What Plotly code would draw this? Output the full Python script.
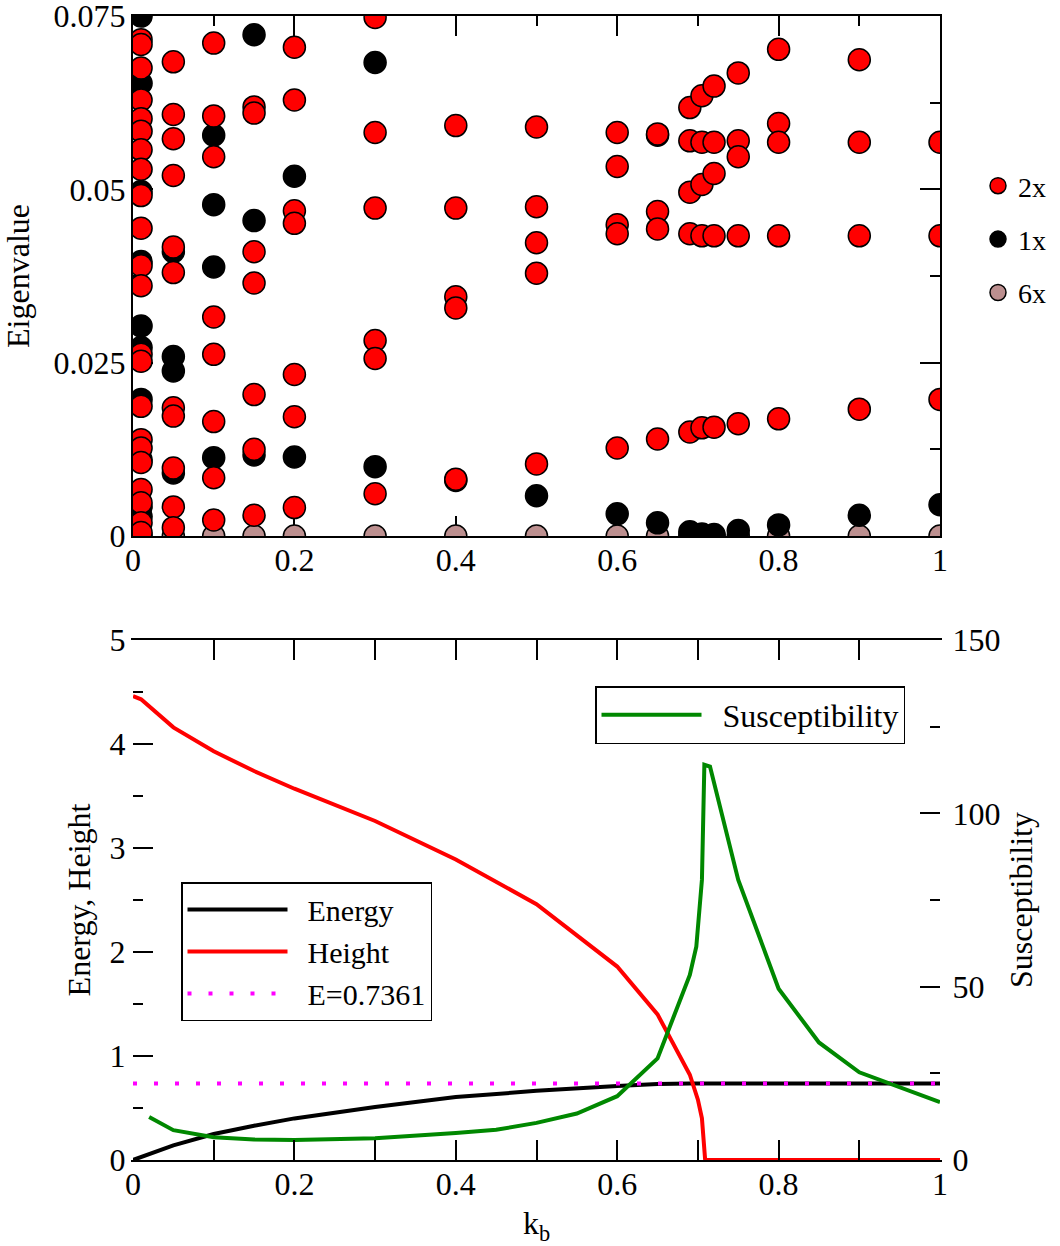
import plotly.graph_objects as go

# ---------------- data: top panel (eigenvalue spectrum) ----------------
k_cols = [0.01, 0.05, 0.1, 0.15, 0.2, 0.3, 0.4, 0.5, 0.6, 0.65,
          0.69, 0.705, 0.72, 0.75, 0.8, 0.9, 1.0]

ev_2x = [
    [0.0716, 0.0709, 0.0675, 0.0629, 0.0602, 0.0584, 0.0557, 0.0529, 0.0491,
     0.0444, 0.0390, 0.0361, 0.0262, 0.0252, 0.0187, 0.0139, 0.0127, 0.0106,
     0.0067, 0.0048, 0.0019, 0.0005],
    [0.0684, 0.0608, 0.0573, 0.0520, 0.0417, 0.0380, 0.0185, 0.0173, 0.0098,
     0.0042, 0.0012],
    [0.0711, 0.0606, 0.0547, 0.0316, 0.0262, 0.0165, 0.0084, 0.0023],
    [0.0619, 0.0610, 0.0410, 0.0365, 0.0204, 0.0125, 0.0030],
    [0.0705, 0.0629, 0.0469, 0.0451, 0.0233, 0.0172, 0.0041],
    [0.0748, 0.0582, 0.0473, 0.0282, 0.0256, 0.0061],
    [0.0592, 0.0473, 0.0345, 0.0329, 0.0082],
    [0.0590, 0.0475, 0.0423, 0.0379, 0.0104],
    [0.0582, 0.0533, 0.0449, 0.0436, 0.0127],
    [0.0580, 0.0468, 0.0443, 0.0140],
    [0.0618, 0.0570, 0.0496, 0.0436, 0.0150],
    [0.0635, 0.0568, 0.0507, 0.0433, 0.0156],
    [0.0649, 0.0568, 0.0523, 0.0433, 0.0157],
    [0.0668, 0.0570, 0.0547, 0.0433, 0.0162],
    [0.0702, 0.0595, 0.0568, 0.0433, 0.0169],
    [0.0687, 0.0568, 0.0433, 0.0183],
    [0.0568, 0.0433, 0.0197],
]

ev_1x = [
    [0.0750, 0.0653, 0.0497, 0.0396, 0.0303, 0.0272, 0.0197, 0.0110, 0.0042, 0.0028],
    [0.0410, 0.0259, 0.0238, 0.0091],
    [0.0578, 0.0478, 0.0388, 0.0113],
    [0.0723, 0.0455, 0.0117],
    [0.0519, 0.0114],
    [0.0683, 0.0100],
    [0.0080],
    [0.0058],
    [0.0032],
    [0.0578, 0.0019],
    [0.0006],
    [0.0003],
    [0.0002],
    [0.0008],
    [0.0016],
    [0.0030],
    [0.0045],
]

ev_6x = [[0.0], [0.0], [0.0], [0.0], [0.0], [0.0], [0.0], [0.0], [0.0],
         [0.0], [0.0], [0.0], [0.0], [0.0], [0.0], [0.0], [0.0]]

eig_ticks = [0, 0.025, 0.05, 0.075]
eig_ticktext = ["0", "0.025", "0.05", "0.075"]

# ---------------- data: bottom panel ----------------
k_energy = [0, 0.05, 0.1, 0.15, 0.2, 0.3, 0.4, 0.5, 0.6, 0.65, 0.69, 0.7,
            0.705, 0.71, 0.75, 0.8, 0.9, 1.0]
energy = [0.0, 0.14, 0.25, 0.33, 0.40, 0.51, 0.605, 0.665, 0.712, 0.731,
          0.7355, 0.736, 0.7361, 0.7361, 0.7361, 0.7361, 0.7361, 0.7361]

k_height = [0, 0.01, 0.05, 0.1, 0.15, 0.2, 0.3, 0.4, 0.5, 0.6, 0.65, 0.69,
            0.70, 0.705, 0.709, 0.75, 0.8, 0.9, 1.0]
height = [4.46, 4.43, 4.16, 3.93, 3.74, 3.57, 3.26, 2.89, 2.46, 1.86, 1.40,
          0.82, 0.58, 0.40, 0.0, 0.0, 0.0, 0.0, 0.0]

k_ref = [0, 1]
e_ref = [0.7361, 0.7361]

k_sus = [0.02, 0.05, 0.1, 0.15, 0.2, 0.3, 0.4, 0.45, 0.5, 0.55, 0.6, 0.65,
         0.69, 0.698, 0.705, 0.708, 0.715, 0.75, 0.8, 0.85, 0.9, 1.0]
sus = [12.4, 8.6, 6.55, 5.9, 5.75, 6.3, 7.8, 8.7, 10.7, 13.4, 18.4, 29.3,
       53.4, 61.5, 80.8, 114.0, 113.5, 80.8, 49.4, 33.9, 25.3, 16.7]


def flatten(cols, groups):
    xs, ys = [], []
    for k, vals in zip(cols, groups):
        for v in vals:
            xs.append(k)
            ys.append(v)
    return xs, ys


FONT = "Liberation Serif"
W, H = 1060, 1246
GAP = "\u00a0\u00a0"  # small gap between legend sample and label


def px(x):
    return x / W


def py(y):
    return (H - y) / H


fig = go.Figure()

# top panel markers (legend order 2x, 1x, 6x; draw order 6x, 1x, 2x)
for name, groups, color, z, grp in [
    ("2x", ev_2x, "#ff0000", 3, "g1"),
    ("1x", ev_1x, "#000000", 2, "g2"),
    ("6x", ev_6x, "#bc8f8f", 1, "g3"),
]:
    xs, ys = flatten(k_cols, groups)
    fig.add_trace(go.Scatter(
        x=xs, y=ys, mode="markers", name=name, xaxis="x", yaxis="y",
        marker=dict(size=22, color=color, line=dict(color="black", width=1.5)),
        cliponaxis=False, zorder=z, legend="legend", legendgroup=grp,
    ))

# bottom panel lines
fig.add_trace(go.Scatter(x=k_energy, y=energy, mode="lines", name=GAP + "Energy",
                         xaxis="x2", yaxis="y2", line=dict(color="black", width=4),
                         legend="legend2", cliponaxis=False))
fig.add_trace(go.Scatter(x=k_height, y=height, mode="lines", name=GAP + "Height",
                         xaxis="x2", yaxis="y2", line=dict(color="#ff0000", width=4),
                         legend="legend2", cliponaxis=False))
fig.add_trace(go.Scatter(x=k_ref, y=e_ref, mode="lines", name=GAP + "E=0.7361",
                         xaxis="x2", yaxis="y2",
                         line=dict(color="#ff00ff", width=4, dash="4px,17px"),
                         legend="legend2", cliponaxis=False))
fig.add_trace(go.Scatter(x=k_sus, y=sus, mode="lines", name=GAP + "Susceptibility",
                         xaxis="x2", yaxis="y3", line=dict(color="#008800", width=4),
                         legend="legend3", cliponaxis=False))

xdom = [px(133), px(940)]
ydom_top = [py(536), py(16)]
ydom_bot = [py(1160), py(640)]

tickfont = dict(family=FONT, size=32, color="black")
common = dict(showline=True, linecolor="black", linewidth=2, ticks="inside",
              tickwidth=2, ticklen=20, tickcolor="black", showgrid=False,
              zeroline=False, tickfont=tickfont, automargin=False,
              ticklabeloverflow="allow")


def minor(d):
    return dict(dtick=d, ticklen=10, tickwidth=2, ticks="inside", tickcolor="black")


fig.update_layout(
    width=W, height=H,
    margin=dict(l=0, r=0, t=0, b=0),
    paper_bgcolor="white", plot_bgcolor="white",
    font=dict(family=FONT, color="black", size=32),
    showlegend=True,
    xaxis=dict(domain=xdom, anchor="y", range=[0, 1], dtick=0.2, mirror="allticks",
               minor=minor(0.1), ticklabelstandoff=-5, **common),
    yaxis=dict(domain=ydom_top, anchor="x", range=[0, 0.07501], tickvals=eig_ticks,
               ticktext=eig_ticktext, mirror="allticks", minor=minor(0.0125),
               title=dict(text="Eigenvalue", font=dict(family=FONT, size=32),
                          standoff=22),
               ticklabelstandoff=-1, **common),
    xaxis2=dict(domain=xdom, anchor="y2", range=[0, 1], dtick=0.2, mirror="allticks",
                minor=minor(0.1),
                title=dict(text="k<sub>b</sub>", font=dict(family=FONT, size=32),
                           standoff=14),
                ticklabelstandoff=-5, **common),
    yaxis2=dict(domain=ydom_bot, anchor="x2", range=[0, 5.0001], dtick=1, mirror=False,
                minor=minor(0.5),
                title=dict(text="Energy, Height", font=dict(family=FONT, size=32),
                           standoff=9),
                ticklabelstandoff=-1, **common),
    yaxis3=dict(overlaying="y2", anchor="x2", side="right", range=[0, 150.003],
                dtick=50, minor=minor(25),
                title=dict(text="Susceptibility", font=dict(family=FONT, size=32),
                           standoff=10),
                ticklabelstandoff=4, **common),
    legend=dict(x=px(978), y=py(161), xanchor="left", yanchor="top",
                bgcolor="rgba(0,0,0,0)", borderwidth=0, tracegroupgap=14,
                font=dict(family=FONT, size=28)),
    legend2=dict(x=px(181), y=py(882), xanchor="left", yanchor="top",
                 bgcolor="white", bordercolor="black", borderwidth=1.5,
                 itemwidth=100, font=dict(family=FONT, size=30)),
    legend3=dict(x=px(595), y=py(686), xanchor="left", yanchor="top",
                 bgcolor="white", bordercolor="black", borderwidth=1.5,
                 itemwidth=100, font=dict(family=FONT, size=32)),
)

fig.write_html("out.html",
               config={"displayModeBar": False},
               post_script="document.body.style.margin='0';"
                           "document.body.style.overflow='hidden';")
